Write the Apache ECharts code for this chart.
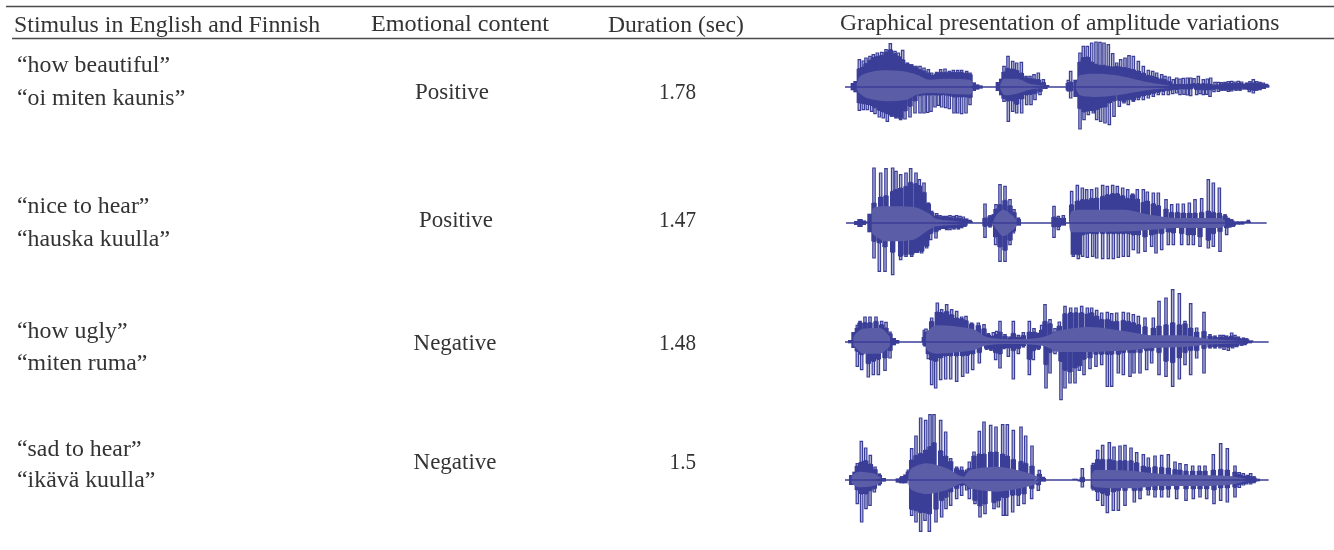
<!DOCTYPE html>
<html><head><meta charset="utf-8">
<script src="https://cdn.jsdelivr.net/npm/echarts@6/dist/echarts.min.js"></script>
<style>html,body{margin:0;background:#fff}#c{width:1334px;height:550px;filter:blur(0.5px)}</style></head>
<body><div id="c"></div>
<script>
const headers = ['Stimulus in English and Finnish','Emotional content','Duration (sec)','Graphical presentation of amplitude variations'];
const stimuliEnglish = ['“how beautiful”','“nice to hear”','“how ugly”','“sad to hear”'];
const stimuliFinnish = ['“oi miten kaunis”','“hauska kuulla”','“miten ruma”','“ikävä kuulla”'];
const emotions = ['Positive','Positive','Negative','Negative'];
const durations = ['1.78','1.47','1.48','1.5'];

// each pulse: time position, peak amplitude, amplitude of its solid part
const w1Up = [[70,12,12],[78,18,18],[88,82,55],[100,78,60],[108,87,70],[120,92,80],[130,97,88],[142,102,92],[155,104,95],[168,112,105],[181,130,112],[195,107,100],[205,102,92],[218,110,82],[232,72,70],[245,67,64],[258,62,58],[270,62,52],[282,57,48],[295,52,42],[305,42,36],[320,44,40],[332,52,44],[345,54,44],[358,47,44],[370,50,44],[383,50,44],[395,50,44],[410,47,42],[420,42,38],[430,14,14],[440,8,8],[450,5,5],[505,15,15],[515,25,25],[522,62,45],[534,92,56],[548,77,54],[560,72,50],[574,74,42],[588,32,28],[600,32,26],[612,37,24],[625,42,22],[640,22,14],[650,6,6],[715,20,12],[722,47,15],[738,22,22],[750,102,75],[760,122,88],[772,122,90],[785,132,75],[798,135,68],[810,134,65],[822,132,65],[835,127,62],[848,100,60],[860,72,62],[872,82,60],[885,87,58],[897,94,55],[910,92,52],[925,77,48],[940,62,42],[955,50,35],[968,47,32],[980,42,28],[995,37,24],[1005,32,22],[1018,30,16],[1030,22,8],[1040,27,7],[1050,24,8],[1060,26,7],[1072,27,8],[1082,27,8],[1092,25,10],[1105,32,10],[1120,22,10],[1132,24,9],[1142,27,8],[1155,14,6],[1165,14,6],[1175,13,8],[1185,14,10],[1195,16,10],[1205,17,10],[1215,15,10],[1225,17,10],[1235,15,10],[1250,12,10],[1260,16,11],[1270,22,12],[1280,16,11],[1290,14,10],[1300,12,8],[1310,8,6]];
const w1Down = [[70,-10,-10],[78,-16,-16],[88,-70,-48],[100,-68,-50],[112,-68,-52],[125,-73,-55],[135,-80,-62],[148,-90,-70],[160,-93,-75],[172,-103,-80],[185,-88,-85],[198,-93,-90],[212,-98,-95],[225,-96,-72],[240,-90,-58],[255,-78,-42],[270,-78,-26],[282,-78,-24],[293,-76,-24],[303,-73,-24],[315,-60,-24],[325,-55,-24],[335,-60,-24],[347,-62,-24],[358,-65,-26],[372,-78,-30],[383,-78,-30],[395,-80,-30],[408,-78,-30],[420,-53,-32],[430,-12,-12],[440,-8,-8],[450,-5,-5],[505,-12,-12],[515,-25,-25],[522,-43,-35],[535,-103,-42],[548,-73,-42],[560,-78,-52],[575,-78,-36],[590,-53,-24],[603,-53,-22],[615,-38,-20],[630,-23,-14],[645,-6,-6],[715,-12,-10],[722,-33,-12],[738,-30,-30],[750,-126,-65],[762,-98,-75],[775,-83,-72],[790,-78,-72],[800,-98,-68],[812,-103,-62],[825,-108,-60],[838,-113,-48],[852,-88,-42],[868,-58,-40],[882,-48,-44],[895,-53,-38],[910,-43,-40],[925,-38,-32],[940,-38,-27],[955,-33,-24],[970,-28,-20],[985,-23,-16],[1000,-23,-13],[1015,-23,-11],[1028,-20,-8],[1040,-18,-7],[1050,-23,-6],[1062,-22,-6],[1072,-24,-6],[1082,-26,-6],[1100,-23,-8],[1110,-20,-8],[1120,-23,-8],[1130,-22,-8],[1140,-28,-8],[1152,-14,-7],[1165,-13,-6],[1175,-10,-7],[1185,-10,-8],[1195,-13,-8],[1205,-12,-8],[1218,-10,-8],[1230,-10,-8],[1245,-8,-8],[1258,-14,-9],[1270,-18,-10],[1280,-10,-8],[1290,-8,-6],[1300,-6,-6]];
const w1CoreUp = [[80,8],[88,30],[110,42],[160,50],[220,47],[260,37],[300,22],[340,25],[420,22],[430,6],[470,null],[510,4],[522,25],[560,25],[600,10],[645,4],[700,null],[738,6],[750,35],[800,40],[860,35],[950,15],[1020,4]];
const w1CoreDown = [[80,-6],[88,-18],[110,-33],[170,-43],[230,-38],[260,-23],[300,-18],[420,-23],[430,-6],[470,null],[510,-3],[525,-25],[560,-20],[600,-8],[640,-3],[700,null],[738,-6],[750,-25],[800,-30],[860,-25],[950,-10],[1020,-3]];
const w1Line = [[45,0],[1318,0]];

const w2Up = [[80,6,6],[90,12,12],[100,8,8],[110,5,5],[120,28,28],[132,165,60],[152,150,78],[168,163,82],[188,165,95],[198,155,100],[212,145,105],[228,150,110],[242,163,122],[258,150,118],[268,130,112],[282,120,92],[295,60,58],[305,35,32],[320,28,22],[330,22,18],[340,20,16],[350,20,16],[360,22,16],[370,20,15],[380,22,15],[390,20,14],[400,18,12],[410,12,9],[420,8,6],[465,57,15],[480,22,20],[490,25,22],[498,55,42],[510,115,55],[525,110,68],[540,70,52],[552,40,32],[565,15,12],[672,50,18],[685,20,15],[700,22,15],[725,95,55],[742,113,66],[757,105,70],[770,100,70],[785,100,74],[800,105,75],[818,113,80],[832,110,85],[848,113,88],[862,110,88],[878,105,82],[893,100,74],[908,87,85],[922,100,72],[940,100,62],[952,93,66],[970,90,58],[985,90,52],[1008,70,42],[1025,55,32],[1043,57,32],[1060,57,30],[1078,60,30],[1095,70,30],[1115,73,32],[1135,130,36],[1150,120,32],[1168,105,30],[1185,25,22],[1195,14,12],[1205,10,8],[1218,6,5],[1230,6,5],[1243,6,5],[1255,8,5]];
const w2Down = [[80,-6,-6],[90,-12,-12],[100,-6,-6],[120,-28,-28],[132,-105,-55],[148,-145,-60],[165,-145,-72],[188,-155,-88],[212,-110,-100],[228,-100,-95],[245,-100,-95],[260,-90,-90],[275,-90,-85],[290,-75,-70],[302,-50,-32],[318,-45,-26],[328,-20,-18],[340,-18,-18],[350,-20,-16],[360,-20,-15],[372,-18,-15],[385,-18,-15],[395,-14,-12],[405,-10,-8],[465,-43,-10],[480,-12,-10],[497,-65,-42],[510,-115,-72],[525,-115,-82],[540,-65,-52],[550,-30,-25],[565,-8,-8],[672,-43,-12],[685,-20,-12],[700,-8,-8],[730,-100,-95],[745,-107,-95],[758,-100,-36],[772,-103,-32],[788,-100,-32],[800,-105,-32],[818,-107,-32],[835,-107,-32],[850,-107,-32],[865,-103,-32],[880,-100,-32],[895,-100,-32],[910,-80,-36],[925,-90,-36],[945,-85,-42],[965,-70,-36],[978,-90,-32],[995,-80,-32],[1015,-65,-27],[1030,-65,-30],[1055,-65,-32],[1075,-65,-36],[1090,-65,-36],[1110,-70,-42],[1135,-75,-52],[1150,-70,-32],[1170,-85,-26],[1190,-35,-15],[1200,-12,-10],[1210,-10,-8],[1222,-6,-5],[1235,-6,-5]];
const w2CoreUp = [[125,22],[130,45],[170,50],[250,48],[295,30],[320,12],[400,5],[440,null],[490,6],[500,25],[520,40],[560,10],[600,null],[718,5],[725,35],[760,40],[880,40],[960,25],[1050,15],[1165,15],[1185,8]];
const w2CoreDown = [[125,-20],[130,-35],[170,-55],[250,-50],[295,-22],[320,-10],[400,-5],[440,null],[490,-6],[500,-20],[520,-40],[560,-10],[600,null],[718,-5],[725,-28],[900,-25],[1050,-15],[1165,-15],[1185,-8]];
const w2Line = [[48,0],[1310,0]];

const w3Up = [[62,6,6],[72,30,30],[82,50,42],[90,62,58],[105,75,58],[120,75,58],[138,75,62],[155,62,52],[168,59,42],[180,30,25],[190,12,12],[200,6,6],[283,35,15],[288,39,30],[305,72,62],[322,117,90],[335,97,88],[350,112,92],[365,97,82],[380,92,72],[395,75,70],[408,77,64],[425,57,55],[445,57,50],[462,52,40],[475,25,22],[490,28,18],[500,32,22],[510,62,30],[525,22,18],[540,15,12],[550,62,26],[565,20,15],[580,28,20],[598,62,30],[612,40,30],[625,28,28],[635,50,36],[645,112,62],[660,67,55],[675,40,30],[688,60,48],[705,107,85],[722,102,88],[738,102,88],[755,107,88],[772,102,84],[785,102,88],[800,95,78],[815,87,68],[832,89,68],[845,85,62],[860,87,62],[880,89,65],[895,87,62],[910,82,58],[925,77,52],[945,72,46],[970,72,42],[987,122,48],[1008,132,52],[1028,157,58],[1048,145,52],[1065,62,55],[1082,115,42],[1100,42,30],[1122,89,32],[1140,22,18],[1155,18,15],[1170,20,15],[1180,20,15],[1190,18,15],[1205,27,18],[1215,20,14],[1225,15,12],[1240,12,10],[1250,10,8],[1262,6,5]];
const w3Down = [[62,-4,-4],[72,-18,-18],[82,-73,-28],[95,-83,-38],[115,-105,-65],[130,-98,-58],[145,-98,-52],[165,-85,-48],[180,-48,-26],[190,-10,-10],[200,-5,-5],[285,-12,-10],[295,-50,-36],[305,-128,-54],[317,-138,-58],[332,-113,-48],[347,-111,-42],[362,-111,-42],[380,-118,-42],[398,-103,-42],[412,-93,-40],[428,-83,-36],[448,-63,-32],[470,-22,-20],[483,-25,-22],[497,-53,-32],[510,-78,-36],[522,-20,-18],[535,-43,-18],[550,-111,-26],[565,-35,-20],[580,-15,-12],[598,-98,-52],[610,-53,-26],[625,-22,-20],[648,-138,-68],[660,-93,-32],[675,-35,-25],[693,-173,-58],[705,-138,-85],[720,-123,-90],[735,-123,-78],[748,-85,-72],[762,-98,-52],[780,-80,-48],[798,-73,-37],[815,-68,-37],[832,-133,-37],[845,-133,-37],[865,-93,-37],[880,-98,-32],[900,-103,-32],[912,-93,-32],[930,-93,-32],[950,-83,-26],[965,-63,-26],[987,-98,-32],[1008,-103,-58],[1028,-133,-62],[1048,-111,-48],[1065,-68,-32],[1082,-98,-26],[1100,-48,-26],[1122,-93,-20],[1140,-18,-16],[1155,-18,-15],[1170,-18,-14],[1182,-22,-15],[1195,-25,-16],[1208,-18,-14],[1220,-14,-12],[1235,-10,-8],[1245,-8,-6],[1258,-5,-4]];
const w3CoreUp = [[70,15],[80,28],[100,40],[150,42],[180,15],[240,null],[288,22],[295,35],[320,50],[430,38],[470,15],[560,8],[640,15],[690,35],[780,45],[900,30],[970,20],[1060,20],[1130,10],[1250,3]];
const w3CoreDown = [[70,-10],[80,-20],[100,-35],[150,-35],[180,-12],[240,null],[288,-15],[295,-28],[320,-35],[430,-25],[470,-10],[560,-6],[640,-12],[690,-30],[780,-30],[900,-25],[970,-18],[1060,-15],[1130,-8],[1250,-3]];
const w3Line = [[45,0],[1316,0]];

const w4Up = [[65,15,15],[75,25,25],[82,49,42],[94,116,54],[107,96,58],[121,74,48],[135,39,32],[148,18,15],[160,6,6],[205,5,5],[215,10,8],[225,15,12],[235,30,25],[245,94,60],[258,132,74],[272,186,80],[287,179,90],[300,196,100],[312,196,112],[332,179,88],[347,144,72],[362,64,56],[380,39,35],[395,39,30],[410,30,25],[418,54,35],[432,84,72],[448,146,78],[462,174,78],[482,164,84],[498,159,84],[518,166,78],[532,166,72],[550,149,62],[573,159,56],[587,132,50],[606,102,42],[628,29,18],[640,8,6],[735,5,4],[757,34,8],[790,50,45],[803,89,62],[818,104,62],[838,112,62],[852,99,58],[870,102,58],[885,104,58],[903,96,58],[920,82,52],[940,76,42],[955,66,38],[975,72,40],[995,74,38],[1015,76,36],[1035,54,32],[1050,49,30],[1068,46,27],[1088,42,27],[1108,42,27],[1125,42,27],[1150,76,30],[1172,109,32],[1192,94,30],[1215,42,24],[1228,22,16],[1240,19,12],[1252,14,10],[1262,19,10],[1272,10,7],[1282,5,4]];
const w4Down = [[65,-15,-15],[82,-71,-30],[95,-126,-42],[108,-86,-42],[120,-76,-32],[133,-36,-26],[148,-15,-12],[160,-5,-5],[205,-8,-8],[215,-10,-10],[225,-10,-10],[245,-106,-88],[258,-126,-92],[272,-154,-98],[285,-121,-98],[298,-154,-102],[318,-126,-88],[335,-111,-62],[348,-86,-52],[362,-76,-36],[380,-56,-26],[395,-46,-16],[410,-30,-16],[418,-56,-26],[435,-71,-62],[450,-111,-78],[465,-101,-72],[492,-86,-68],[505,-81,-62],[520,-106,-52],[530,-106,-52],[548,-96,-46],[565,-76,-46],[582,-71,-42],[605,-56,-26],[625,-31,-15],[640,-5,-5],[750,-4,-4],[757,-21,-6],[790,-30,-26],[803,-61,-36],[818,-76,-40],[832,-98,-46],[850,-91,-36],[865,-91,-32],[885,-76,-32],[913,-66,-32],[930,-56,-32],[955,-45,-30],[975,-51,-30],[995,-51,-30],[1015,-51,-28],[1040,-56,-28],[1068,-61,-27],[1090,-56,-27],[1110,-51,-27],[1130,-56,-27],[1152,-71,-30],[1172,-61,-24],[1192,-66,-24],[1215,-51,-22],[1228,-22,-14],[1240,-15,-10],[1250,-12,-8],[1262,-12,-8],[1272,-8,-6],[1282,-4,-4]];
const w4CoreUp = [[65,12],[85,25],[130,20],[155,5],[190,null],[235,15],[245,35],[290,50],[350,35],[400,10],[420,30],[500,40],[600,20],[630,5],[700,null],[785,15],[795,30],[900,28],[1000,18],[1100,15],[1200,12],[1250,3]];
const w4CoreDown = [[65,-10],[85,-22],[130,-18],[155,-5],[190,null],[235,-12],[245,-30],[290,-42],[350,-30],[400,-10],[420,-25],[500,-35],[600,-18],[630,-5],[700,null],[785,-12],[795,-22],[900,-25],[1000,-18],[1100,-18],[1200,-14],[1250,-3]];
const w4Line = [[45,0],[1316,0]];

const waves = [
 {up:w1Up,down:w1Down,cu:w1CoreUp,cd:w1CoreDown,line:w1Line},
 {up:w2Up,down:w2Down,cu:w2CoreUp,cd:w2CoreDown,line:w2Line},
 {up:w3Up,down:w3Down,cu:w3CoreUp,cd:w3CoreDown,line:w3Line},
 {up:w4Up,down:w4Down,cu:w4CoreUp,cd:w4CoreDown,line:w4Line}
];
const baselinesY = [87,223,342,480];
const DARK='#3a3e97', CORE='#5b5da7', PALE='#b4b6d8';
const TEXT='#333333', FONT='"Liberation Serif",serif';

function pulseItem(params, api){
  const x=api.coord([api.value(0),0])[0], y0=api.coord([0,0])[1];
  const yPeak=api.coord([0,api.value(1)])[1], ySolid=api.coord([0,api.value(2)])[1];
  const kids=[{type:'rect',shape:{x:x-2.7,y:Math.min(y0,ySolid),width:5.4,height:Math.abs(y0-ySolid)},style:{fill:DARK}}];
  if(Math.abs(yPeak-ySolid)>0.5) kids.push({type:'rect',shape:{x:x-1.2,y:Math.min(yPeak,ySolid),width:2.4,height:Math.abs(yPeak-ySolid)},style:{fill:PALE,stroke:DARK,lineWidth:1.2}});
  return {type:'group',children:kids};
}
const grids=[],xAxes=[],yAxes=[],series=[];
waves.forEach((w,i)=>{
  grids.push({left:830,width:450,top:baselinesY[i]-70,height:140});
  xAxes.push({type:'value',gridIndex:i,min:0,max:1350,show:false});
  yAxes.push({type:'value',gridIndex:i,min:-210,max:210,show:false});
  const c={xAxisIndex:i,yAxisIndex:i,silent:true};
  [w.up,w.down].forEach(d=>series.push({...c,type:'custom',clip:false,z:2,renderItem:pulseItem,encode:{x:0,y:1},data:d}));
  [w.cu,w.cd].forEach(d=>series.push({...c,type:'line',z:4,data:d,symbol:'none',smooth:0.3,connectNulls:false,lineStyle:{width:0},itemStyle:{color:CORE},areaStyle:{color:CORE,opacity:1}}));
  series.push({...c,type:'line',z:5,data:w.line,symbol:'none',lineStyle:{width:1.6,color:DARK}});
});
const txt=(s,x,y,align,sx)=>({type:'text',x,y,scaleX:sx||1.06,style:{text:s,fill:TEXT,font:'22.5px '+FONT,textAlign:align||'left',textVerticalAlign:'middle'}});
const rule=(x1,x2,y,w)=>({type:'line',shape:{x1,y1:y,x2,y2:y},style:{stroke:'#4a4a4a',lineWidth:w}});
const rowY=[[66,99],[207,240],[332,364],[450,481]];
const centerY=[93,221,344,463];
const emoX=[452,456,455,455];
const g=[rule(6,1334,6.5,1.4),rule(12,1334,38.5,1.6),
  txt(headers[0],14,26),txt(headers[1],371,25,'left',1.075),txt(headers[2],608,26,'left',1.05),txt(headers[3],840,24,'left',1.05)];
stimuliEnglish.forEach((s,i)=>{
  g.push(txt(s,17,rowY[i][0]),txt(stimuliFinnish[i],17,rowY[i][1]),
   txt(emotions[i],emoX[i],centerY[i],'center',1.02),txt(durations[i],696,centerY[i],'right',0.94));
});
const chart=echarts.init(document.getElementById('c'),null,{renderer:'canvas'});
chart.setOption({animation:false,backgroundColor:'#fff',grid:grids,xAxis:xAxes,yAxis:yAxes,series,graphic:g});
</script></body></html>
